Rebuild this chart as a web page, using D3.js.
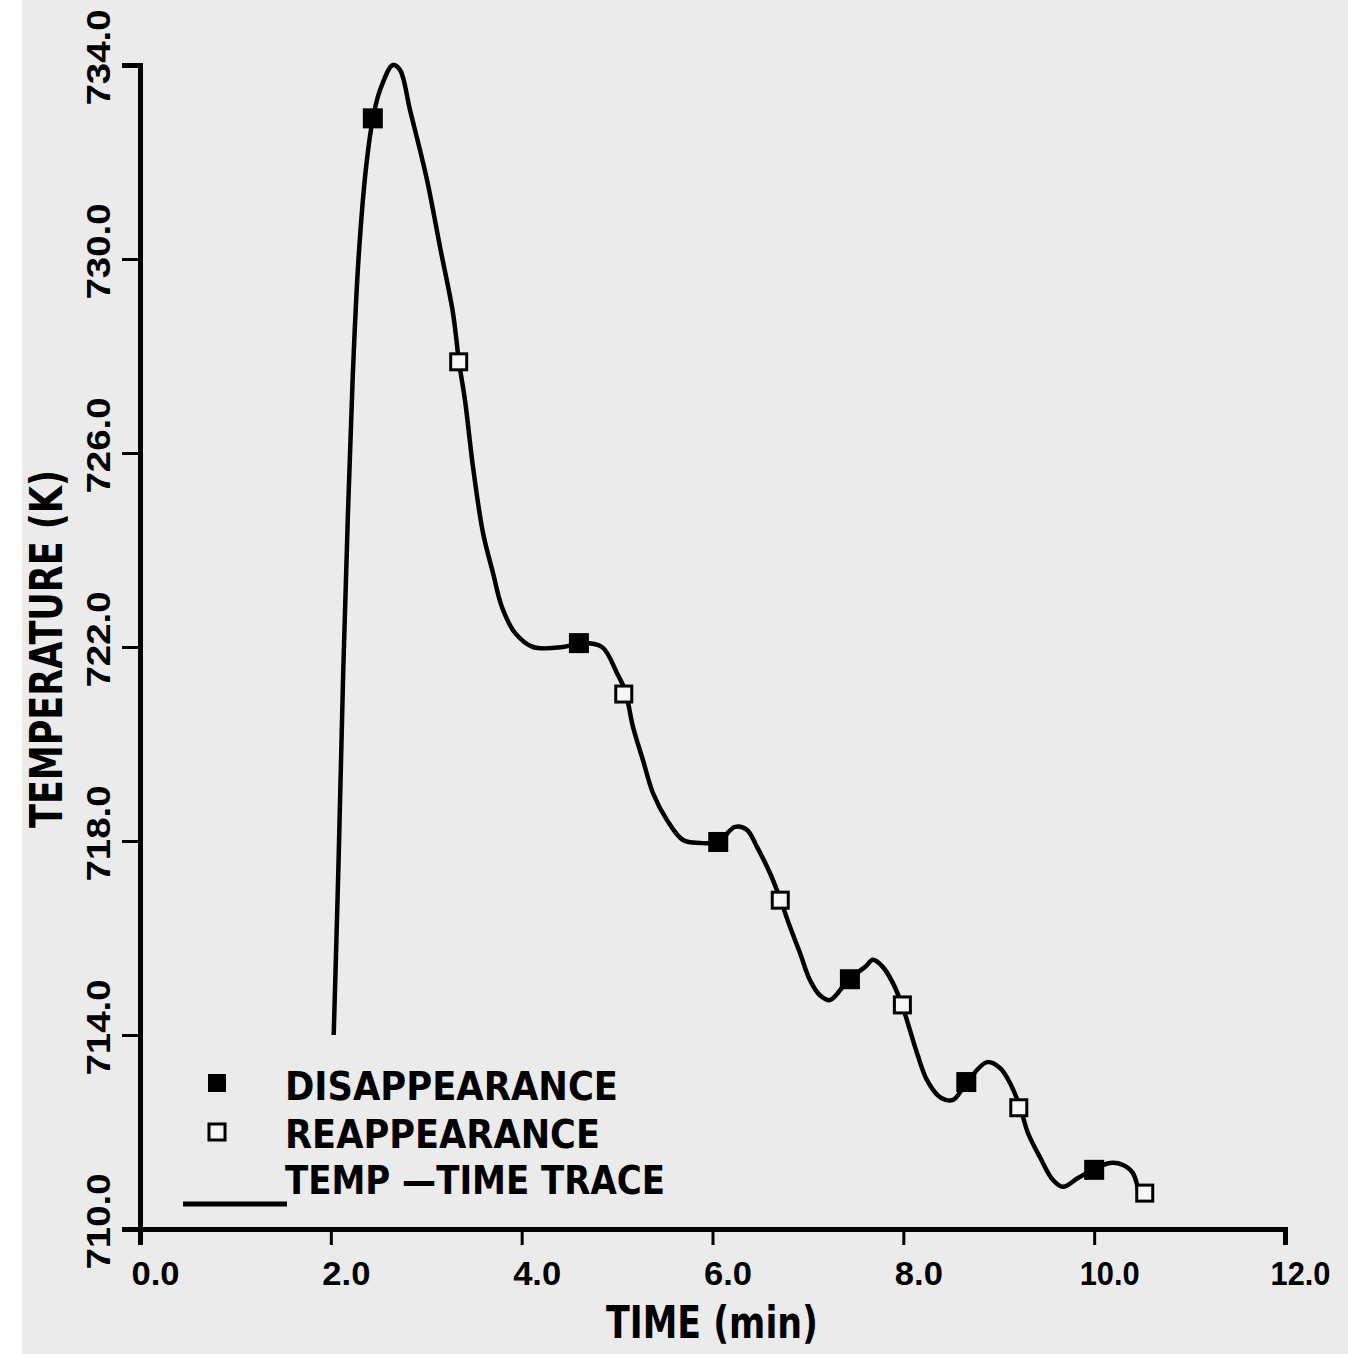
<!DOCTYPE html>
<html>
<head>
<meta charset="utf-8">
<script src="https://cdn.jsdelivr.net/npm/d3@7"></script>
<style>
  html, body { margin: 0; padding: 0; background: #fff; }
  svg { display: block; }
</style>
</head>
<body>
<script>
// temp-time trace
const traceTime = [2.03, 2.08, 2.13, 2.18, 2.23, 2.29, 2.37, 2.442, 2.515, 2.651, 2.725, 2.83, 3.008, 3.144, 3.28, 3.343, 3.406, 3.49, 3.595, 3.699, 3.794, 3.93, 4.119, 4.433, 4.611, 4.842, 4.999, 5.083, 5.167, 5.271, 5.376, 5.523, 5.691, 5.869, 6.058, 6.236, 6.361, 6.466, 6.602, 6.707, 6.812, 6.917, 7.022, 7.126, 7.231, 7.43, 7.598, 7.682, 7.787, 7.891, 7.986, 8.143, 8.248, 8.384, 8.52, 8.667, 8.877, 9.013, 9.118, 9.222, 9.306, 9.432, 9.568, 9.673, 9.83, 9.987, 10.166, 10.302, 10.407, 10.48];
const traceTemp = [714.0, 717.5, 721.5, 724.8, 727.6, 730.0, 731.9, 732.91, 733.48, 734.0, 733.9, 733.07, 731.63, 730.25, 728.89, 727.88, 727.09, 725.71, 724.35, 723.53, 722.82, 722.29, 722.0, 722.0, 722.08, 722.0, 721.46, 721.11, 720.35, 719.67, 718.99, 718.43, 718.02, 717.96, 717.98, 718.29, 718.23, 717.88, 717.34, 716.82, 716.23, 715.69, 715.13, 714.82, 714.72, 715.15, 715.4, 715.55, 715.4, 715.07, 714.62, 713.63, 713.07, 712.72, 712.66, 713.03, 713.44, 713.32, 713.01, 712.52, 711.98, 711.48, 711.01, 710.87, 711.05, 711.22, 711.36, 711.32, 711.15, 710.6];

// disappearance (filled) and reappearance (open) points
const disTime = [2.44, 4.6, 6.06, 7.44, 8.66, 10.0];
const disTemp = [732.9, 722.08, 717.98, 715.15, 713.03, 711.22];
const reTime = [3.34, 5.07, 6.71, 7.99, 9.21, 10.53];
const reTemp = [727.88, 721.03, 716.78, 714.62, 712.5, 710.74];

const xTicks = [0, 2, 4, 6, 8, 10, 12];
const yTicks = [710, 714, 718, 722, 726, 730, 734];

const legendLabels = ['DISAPPEARANCE', 'REAPPEARANCE', 'TEMP \u2014TIME TRACE'];

const W = 1348, H = 1354;
const font = `'Liberation Sans Narrow', 'DejaVu Sans Condensed', 'Liberation Sans', sans-serif`;

const svg = d3.select('body').append('svg')
  .attr('width', W)
  .attr('height', H)
  .style('font-family', font)
  .style('font-weight', 'bold');

// grey page with a white strip down the left
svg.append('rect').attr('x', 0).attr('y', 0).attr('width', W).attr('height', H).attr('fill', '#fff');
svg.append('rect').attr('x', 22).attr('y', 0).attr('width', W - 22).attr('height', H).attr('fill', '#ebebeb');

const x = d3.scaleLinear().domain([0, 12]).range([140, 1285]);
const y = d3.scaleLinear().domain([710, 734]).range([1229, 65]);

//axes
const yAxis = svg.append('g')
  .attr('transform', `translate(${x(0)},0)`)
  .call(d3.axisLeft(y).tickValues(yTicks).tickSizeOuter(0).tickSize(18).tickFormat(d3.format('.1f')));

yAxis.select('.domain').attr('stroke', '#000').attr('stroke-width', 5);
yAxis.selectAll('.tick line').attr('stroke', '#000').attr('stroke-width', 3);
yAxis.selectAll('.tick text')
  .attr('x', null).attr('dy', null)
  .attr('transform', 'translate(-30,-8) rotate(-90)')
  .attr('text-anchor', 'middle')
  .attr('fill', '#000')
  .style('font-size', '34px')
  .attr('textLength', 96)
  .attr('lengthAdjust', 'spacingAndGlyphs');

const xAxis = svg.append('g')
  .attr('transform', `translate(0,${y(710)})`)
  .call(d3.axisBottom(x).tickValues(xTicks).tickSizeOuter(0).tickSize(16).tickFormat(d3.format('.1f')));

xAxis.select('.domain').attr('stroke', '#000').attr('stroke-width', 5);
xAxis.selectAll('.tick line').attr('stroke', '#000').attr('stroke-width', 3);
xAxis.selectAll('.tick text')
  .attr('y', 56).attr('dy', null)
  .attr('x', 15)
  .attr('text-anchor', 'middle')
  .attr('fill', '#000')
  .style('font-size', '34px')
  .attr('textLength', d => d >= 10 ? 60 : 48)
  .attr('lengthAdjust', 'spacingAndGlyphs');

// axis titles
svg.append('text')
  .attr('transform', 'translate(62,649) rotate(-90)')
  .attr('text-anchor', 'middle')
  .style('font-size', '44px')
  .attr('textLength', 358)
  .attr('lengthAdjust', 'spacingAndGlyphs')
  .text('TEMPERATURE (K)');

svg.append('text')
  .attr('x', 712)
  .attr('y', 1338)
  .attr('text-anchor', 'middle')
  .style('font-size', '44px')
  .attr('textLength', 212)
  .attr('lengthAdjust', 'spacingAndGlyphs')
  .text('TIME (min)');

// trace
const trace = traceTime.map((t, i) => [t, traceTemp[i]]);
const line = d3.line()
  .x(d => x(d[0]))
  .y(d => y(d[1]))
  .curve(d3.curveCatmullRom.alpha(0.5));

svg.append('path')
  .datum(trace)
  .attr('d', line)
  .attr('fill', 'none')
  .attr('stroke', '#000')
  .attr('stroke-width', 4.5)
  .attr('stroke-linejoin', 'round');

// markers
const dis = disTime.map((t, i) => [t, disTemp[i]]);
const re = reTime.map((t, i) => [t, reTemp[i]]);

svg.selectAll('.dis').data(dis).enter().append('rect')
  .attr('class', 'dis')
  .attr('x', d => x(d[0]) - 10)
  .attr('y', d => y(d[1]) - 10)
  .attr('width', 20)
  .attr('height', 20)
  .attr('fill', '#000');

svg.selectAll('.re').data(re).enter().append('rect')
  .attr('class', 're')
  .attr('x', d => x(d[0]) - 8)
  .attr('y', d => y(d[1]) - 8)
  .attr('width', 16)
  .attr('height', 16)
  .attr('fill', '#f6f6f6')
  .attr('stroke', '#000')
  .attr('stroke-width', 3);

// legend
const legend = svg.append('g');
legend.append('rect').attr('x', 208).attr('y', 1074).attr('width', 18).attr('height', 18).attr('fill', '#000');
legend.append('rect').attr('x', 209).attr('y', 1124).attr('width', 16).attr('height', 16)
  .attr('fill', '#f6f6f6').attr('stroke', '#000').attr('stroke-width', 3);
legend.append('line').attr('x1', 183).attr('x2', 287).attr('y1', 1204).attr('y2', 1204)
  .attr('stroke', '#000').attr('stroke-width', 5);

const legendY = [1100, 1148, 1194];
const legendLen = [333, 315, 380];
legend.selectAll('text').data(legendLabels).enter().append('text')
  .attr('x', 285)
  .attr('y', (d, i) => legendY[i])
  .style('font-size', '39px')
  .attr('textLength', (d, i) => legendLen[i])
  .attr('lengthAdjust', 'spacingAndGlyphs')
  .text(d => d);
</script>
</body>
</html>
